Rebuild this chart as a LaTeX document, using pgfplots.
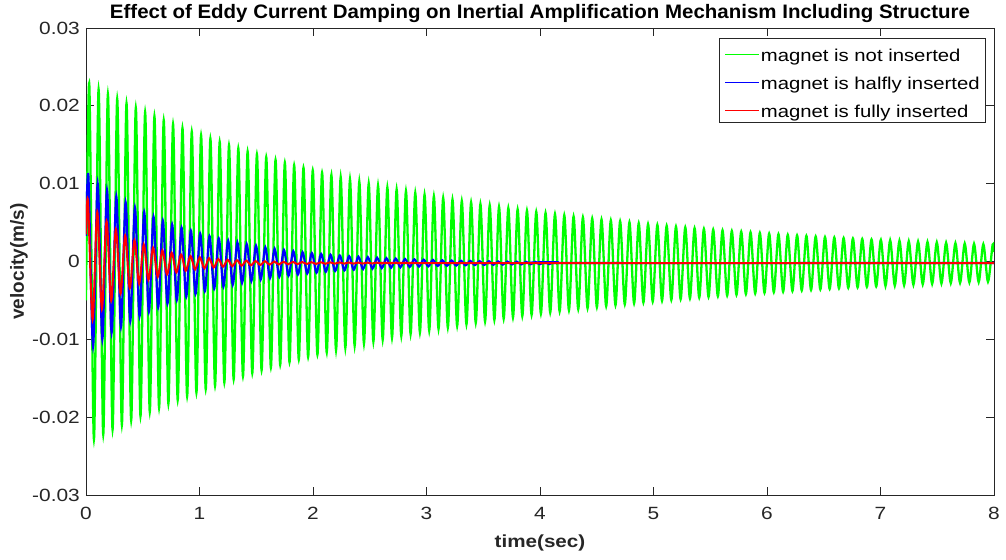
\documentclass[border=0pt]{standalone}
\usepackage{pgfplots}
\pgfplotsset{compat=1.18}
\usepackage{fontspec}
\setmainfont{Liberation Sans}[FakeStretch=1.18]
\newfontfamily\ylabfont{Liberation Sans}
\newfontfamily\titlefont{Liberation Sans}[FakeStretch=1.05]
\definecolor{axgray}{RGB}{38,38,38}
\definecolor{mgreen}{RGB}{0,255,0}
\definecolor{mblue}{RGB}{0,0,255}
\definecolor{mred}{RGB}{255,0,0}
\begin{document}
\fontsize{17.7}{20}\selectfont
\begin{tikzpicture}
\begin{axis}[
  scale only axis, width=908pt, height=467pt,
  xmin=0, xmax=8, ymin=-0.03, ymax=0.03,
  xtick={0,1,2,3,4,5,6,7,8}, xticklabels={0,1,2,3,4,5,6,7,8},
  ytick={-0.03,-0.02,-0.01,0,0.01,0.02,0.03},
  yticklabels={-0.03,-0.02,-0.01,0,0.01,0.02,0.03},
  scaled y ticks=false, scaled x ticks=false,
  tick align=inside, major tick length=8pt,
  axis line style={axgray, line width=0.8pt},
  every tick/.style={axgray, line width=0.8pt},
  xticklabel style={font=\fontsize{17.7}{20}\selectfont, text=axgray, anchor=base, yshift=-25pt},
  yticklabel style={font=\fontsize{17.7}{20}\selectfont, text=axgray, anchor=east, inner sep=0pt, xshift=-6pt},
  title={Effect of Eddy Current Damping on Inertial Amplification Mechanism Including Structure},
  title style={font=\titlefont\bfseries\fontsize{19.5}{22}\selectfont, at={(axis description cs:0.5,1)}, anchor=base, yshift=3pt},
  xlabel={time(sec)},
  xlabel style={font=\bfseries\fontsize{17.5}{20}\selectfont, text=axgray, at={(axis description cs:0.5,0)}, anchor=base, yshift=-53pt},
  ylabel={velocity(m/s)},
  ylabel style={font=\ylabfont\bfseries\fontsize{19}{22}\selectfont, text=axgray, at={(axis description cs:-0.0683,0.5)}, anchor=base},
  legend style={at={(axis description cs:1,1)}, anchor=north east, xshift=-8pt, yshift=-10pt,
    draw=axgray, line width=0.6pt, fill=white, inner xsep=5pt, inner ysep=2pt, row sep=4pt,
    font=\fontsize{17.2}{20}\selectfont, nodes={inner sep=1pt, text height=20pt, text depth=2pt}, cells={anchor=west}},
  legend image code/.code={\draw[#1, line width=1.6pt] (0pt,-2.1pt) -- (34pt,-2.1pt);},
]
\addplot[mgreen, line width=2.3pt, smooth] coordinates {
(0,-0.0050)
(0.029,0.02277)(0.070,-0.02284)(0.111,0.02212)(0.152,-0.02221)(0.193,0.02150)(0.234,-0.02159)(0.275,0.02089)(0.316,-0.02099)(0.357,0.02030)(0.398,-0.02041)
(0.439,0.01973)(0.480,-0.01985)(0.521,0.01918)(0.562,-0.01931)(0.603,0.01865)(0.644,-0.01879)(0.685,0.01813)(0.726,-0.01828)(0.767,0.01763)(0.808,-0.01778)
(0.850,0.01714)(0.891,-0.01730)(0.932,0.01667)(0.973,-0.01684)(1.014,0.01621)(1.055,-0.01639)(1.096,0.01577)(1.137,-0.01596)(1.178,0.01535)(1.219,-0.01554)
(1.260,0.01493)(1.301,-0.01513)(1.342,0.01453)(1.383,-0.01473)(1.424,0.01413)(1.465,-0.01434)(1.506,0.01376)(1.547,-0.01397)(1.588,0.01339)(1.629,-0.01361)
(1.670,0.01304)(1.711,-0.01326)(1.752,0.01269)(1.793,-0.01292)(1.834,0.01236)(1.875,-0.01259)(1.916,0.01203)(1.957,-0.01227)(1.998,0.01171)(2.039,-0.01196)
(2.080,0.01141)(2.121,-0.01166)(2.162,0.01111)(2.203,-0.01137)(2.244,0.01082)(2.285,-0.01108)(2.326,0.01054)(2.367,-0.01081)(2.408,0.01027)(2.449,-0.01054)
(2.491,0.01000)(2.532,-0.01028)(2.573,0.00975)(2.614,-0.01003)(2.655,0.00951)(2.696,-0.00978)(2.737,0.00926)(2.778,-0.00955)(2.819,0.00903)(2.860,-0.00931)
(2.901,0.00880)(2.942,-0.00909)(2.983,0.00858)(3.024,-0.00887)(3.065,0.00837)(3.106,-0.00866)(3.147,0.00816)(3.188,-0.00846)(3.229,0.00796)(3.270,-0.00826)
(3.311,0.00776)(3.352,-0.00806)(3.393,0.00757)(3.434,-0.00787)(3.475,0.00738)(3.516,-0.00769)(3.557,0.00720)(3.598,-0.00751)(3.639,0.00703)(3.680,-0.00734)
(3.721,0.00686)(3.762,-0.00718)(3.803,0.00669)(3.844,-0.00701)(3.885,0.00653)(3.926,-0.00685)(3.967,0.00637)(4.008,-0.00670)(4.049,0.00622)(4.090,-0.00655)
(4.132,0.00608)(4.173,-0.00640)(4.214,0.00593)(4.255,-0.00626)(4.296,0.00579)(4.337,-0.00612)(4.378,0.00566)(4.419,-0.00599)(4.460,0.00552)(4.501,-0.00586)
(4.542,0.00539)(4.583,-0.00573)(4.624,0.00527)(4.665,-0.00561)(4.706,0.00515)(4.747,-0.00549)(4.788,0.00503)(4.829,-0.00537)(4.870,0.00491)(4.911,-0.00526)
(4.952,0.00480)(4.993,-0.00514)(5.034,0.00469)(5.075,-0.00504)(5.116,0.00458)(5.157,-0.00493)(5.198,0.00448)(5.239,-0.00483)(5.280,0.00438)(5.321,-0.00473)
(5.362,0.00428)(5.403,-0.00463)(5.444,0.00418)(5.485,-0.00454)(5.526,0.00409)(5.567,-0.00445)(5.608,0.00400)(5.649,-0.00436)(5.690,0.00391)(5.731,-0.00427)
(5.773,0.00383)(5.814,-0.00418)(5.855,0.00374)(5.896,-0.00410)(5.937,0.00366)(5.978,-0.00402)(6.019,0.00358)(6.060,-0.00394)(6.101,0.00350)(6.142,-0.00387)
(6.183,0.00343)(6.224,-0.00379)(6.265,0.00335)(6.306,-0.00372)(6.347,0.00328)(6.388,-0.00365)(6.429,0.00321)(6.470,-0.00358)(6.511,0.00314)(6.552,-0.00351)
(6.593,0.00308)(6.634,-0.00345)(6.675,0.00301)(6.716,-0.00338)(6.757,0.00295)(6.798,-0.00332)(6.839,0.00289)(6.880,-0.00326)(6.921,0.00283)(6.962,-0.00320)
(7.003,0.00277)(7.044,-0.00314)(7.085,0.00271)(7.126,-0.00309)(7.167,0.00266)(7.208,-0.00303)(7.249,0.00260)(7.290,-0.00298)(7.331,0.00255)(7.372,-0.00292)
(7.414,0.00250)(7.455,-0.00287)(7.496,0.00245)(7.537,-0.00282)(7.578,0.00240)(7.619,-0.00277)(7.660,0.00235)(7.701,-0.00273)(7.742,0.00230)(7.783,-0.00268)
(7.824,0.00226)(7.865,-0.00264)(7.906,0.00221)(7.947,-0.00259)(7.988,0.00217)(8.000,0.00120)
};
\addlegendentry{magnet is not inserted}
\addplot[mblue, line width=2.2pt, smooth] coordinates {
(0,0.0033)
(0.021,0.01100)(0.062,-0.01091)(0.103,0.01003)(0.144,-0.00998)(0.185,0.00915)(0.226,-0.00914)(0.267,0.00834)(0.308,-0.00837)(0.349,0.00761)(0.390,-0.00766)
(0.431,0.00693)(0.472,-0.00702)(0.513,0.00632)(0.554,-0.00643)(0.595,0.00575)(0.636,-0.00589)(0.677,0.00524)(0.718,-0.00540)(0.759,0.00477)(0.800,-0.00495)
(0.842,0.00434)(0.883,-0.00454)(0.924,0.00395)(0.965,-0.00417)(1.006,0.00359)(1.047,-0.00382)(1.088,0.00326)(1.129,-0.00351)(1.170,0.00297)(1.211,-0.00323)
(1.252,0.00269)(1.293,-0.00296)(1.334,0.00244)(1.375,-0.00273)(1.416,0.00221)(1.457,-0.00251)(1.498,0.00201)(1.539,-0.00231)(1.580,0.00182)(1.621,-0.00213)
(1.662,0.00164)(1.703,-0.00196)(1.744,0.00148)(1.785,-0.00181)(1.826,0.00134)(1.867,-0.00167)(1.908,0.00120)(1.949,-0.00154)(1.990,0.00108)(2.031,-0.00143)
(2.072,0.00097)(2.113,-0.00132)(2.154,0.00087)(2.195,-0.00122)(2.236,0.00078)(2.277,-0.00114)(2.318,0.00069)(2.359,-0.00106)(2.400,0.00062)(2.441,-0.00098)
(2.483,0.00055)(2.524,-0.00091)(2.565,0.00048)(2.606,-0.00085)(2.647,0.00042)(2.688,-0.00080)(2.729,0.00037)(2.770,-0.00074)(2.811,0.00032)(2.852,-0.00070)
(2.893,0.00028)(2.934,-0.00065)(2.975,0.00023)(3.016,-0.00062)(3.057,0.00020)(3.098,-0.00058)(3.139,0.00016)(3.180,-0.00055)(3.221,0.00013)(3.262,-0.00052)
(3.303,0.00010)(3.344,-0.00049)(3.385,0.00008)(3.426,-0.00046)(3.467,0.00005)(3.508,-0.00044)(3.549,0.00003)(3.590,-0.00042)(3.631,0.00001)(3.672,-0.00040)
(3.713,-0.00001)(3.754,-0.00038)(3.795,-0.00002)(3.836,-0.00037)(3.877,-0.00004)(3.918,-0.00035)(3.959,-0.00005)(4.000,-0.00034)(4.041,-0.00007)(4.082,-0.00033)
(4.124,-0.00008)(4.165,-0.00020)(8,-0.0002)
};
\addlegendentry{magnet is halfly inserted}
\addplot[mred, line width=2pt, smooth] coordinates {
(0,0.0035)
(0.017,0.00785)(0.058,-0.00747)(0.099,0.00636)(0.140,-0.00612)(0.181,0.00515)(0.222,-0.00503)(0.263,0.00416)(0.304,-0.00414)(0.345,0.00336)(0.386,-0.00342)
(0.427,0.00271)(0.468,-0.00284)(0.509,0.00218)(0.550,-0.00236)(0.591,0.00176)(0.632,-0.00197)(0.673,0.00141)(0.714,-0.00166)(0.755,0.00112)(0.796,-0.00140)
(0.838,0.00089)(0.879,-0.00119)(0.920,0.00070)(0.961,-0.00102)(1.002,0.00055)(1.043,-0.00088)(1.084,0.00042)(1.125,-0.00077)(1.166,0.00032)(1.207,-0.00067)
(1.248,0.00023)(1.289,-0.00060)(1.330,0.00017)(1.371,-0.00054)(1.412,0.00011)(1.453,-0.00049)(1.494,0.00006)(1.535,-0.00044)(1.576,0.00003)(1.617,-0.00041)
(1.658,-0.00001)(1.699,-0.00038)(1.740,-0.00003)(1.781,-0.00036)(1.822,-0.00005)(1.863,-0.00034)(1.904,-0.00007)(1.945,-0.00032)(1.986,-0.00009)(2.027,-0.00031)
(2.068,-0.00010)(2.109,-0.00029)(2.150,-0.00011)(2.191,-0.00028)(2.232,-0.00012)(2.273,-0.00027)(2.314,-0.00013)(2.355,-0.00027)(2.396,-0.00014)(2.437,-0.00026)
(2.479,-0.00015)(2.520,-0.00025)(2.561,-0.00015)(2.602,-0.00025)(2.643,-0.00016)(2.684,-0.00024)(2.725,-0.00016)(2.766,-0.00024)(2.807,-0.00016)(2.848,-0.00024)
(2.889,-0.00017)(2.930,-0.00020)(8,-0.0002)
};
\addlegendentry{magnet is fully inserted}
\end{axis}
\pgfresetboundingbox
\path ([shift={(-86pt,-65pt)}]current axis.south west) rectangle ([shift={(12pt,28pt)}]current axis.north east);
\end{tikzpicture}
\end{document}
